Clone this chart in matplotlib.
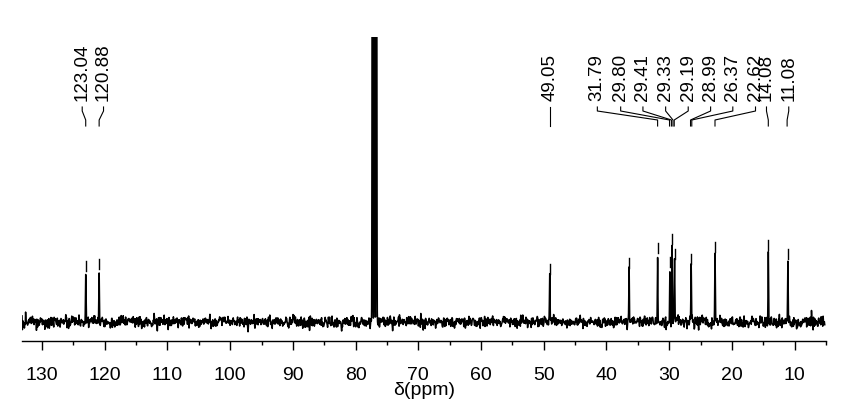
import numpy as np
import matplotlib
matplotlib.use("Agg")
import matplotlib.pyplot as plt

plt.rcParams['font.family'] = ['Liberation Sans', 'DejaVu Sans']

# peaks (ppm, height above baseline)
peak_ppm = np.array([123.04, 120.90, 77.32, 77.00, 76.68, 49.05, 36.40,
                     31.85, 29.90, 29.55, 29.15, 26.50, 22.70, 14.20, 11.08])
peak_height = np.array([49, 51, 900, 950, 900, 46, 52,
                        67, 53, 76, 61, 56, 68, 70, 61])
# which peaks get a peak-pick marker (solvent triplet does not)
peak_marked = np.array([1, 1, 0, 0, 0, 1, 1, 1, 1, 1, 1, 1, 1, 1, 1], dtype=bool)

# peak-pick labels at the top
label_text = ['123.04', '120.88', '49.05', '31.79', '29.80', '29.41', '29.33',
              '29.19', '28.99', '26.37', '22.62', '14.08', '11.08']
label_pos = [123.6, 120.2, 49.05, 41.46, 37.74, 34.19, 30.57,
             26.97, 23.40, 19.86, 16.24, 14.49, 10.94]
label_anchor = [123.04, 120.90, 49.05, 31.85, 29.95, 29.65, 29.40,
                29.20, 26.60, 26.40, 22.70, 14.20, 11.20]

x_left, x_right = 133.2, 5.2


def spectrum():
    # baseline noise texture (fixed seed), then narrow lines on top
    rng = np.random.default_rng(3)
    grid = np.linspace(x_left, x_right, 2000)
    noise = rng.normal(0, 3.0, grid.size)
    x = np.concatenate([np.linspace(x_left, x_right, 12000),
                        peak_ppm, peak_ppm - 0.03, peak_ppm + 0.03])
    x = np.sort(x)[::-1]
    y = np.interp(x[::-1], grid[::-1], noise[::-1])[::-1]
    for p, h in zip(peak_ppm, peak_height):
        y = y + h * np.exp(-0.5 * ((x - p) / 0.045)**2)
    return x, y


fig = plt.figure(figsize=(8.47, 4.10), dpi=100)
ax = fig.add_axes([22 / 847, 1 - 342.3 / 410, (826 - 22) / 847, (342.3 - 38) / 410])

x, y = spectrum()
ax.plot(x, y, color='black', lw=1.1)

# peak-pick markers just above each peak
for p, h, m in zip(peak_ppm, peak_height, peak_marked):
    if m:
        ax.plot([p, p], [h + 2, h + 12], color='black', lw=1.0)

# labels and connector lines
for txt, lx, ax_ in zip(label_text, label_pos, label_anchor):
    ax.text(lx, 222, txt, rotation=90, ha='center', va='bottom', fontsize=13.5)
    ax.plot([lx, lx, ax_, ax_], [215, 211, 202, 196], color='black', lw=0.8)

ax.set_xlim(x_left, x_right)
ax.set_ylim(-19.3, 285)

for s in ['left', 'top', 'right']:
    ax.spines[s].set_visible(False)
ax.spines['bottom'].set_linewidth(1.0)
ax.set_yticks([])
ax.set_xticks(np.arange(130, 9, -10))
ax.set_xticks(np.arange(125, 4, -10), minor=True)
ax.tick_params(axis='x', which='major', length=6.5, width=1.0, pad=11, labelsize=14)
ax.tick_params(axis='x', which='minor', length=3, width=1.0)
ax.set_xlabel('δ(ppm)', fontsize=14, labelpad=-1)

fig.savefig('out.png', dpi=100)
